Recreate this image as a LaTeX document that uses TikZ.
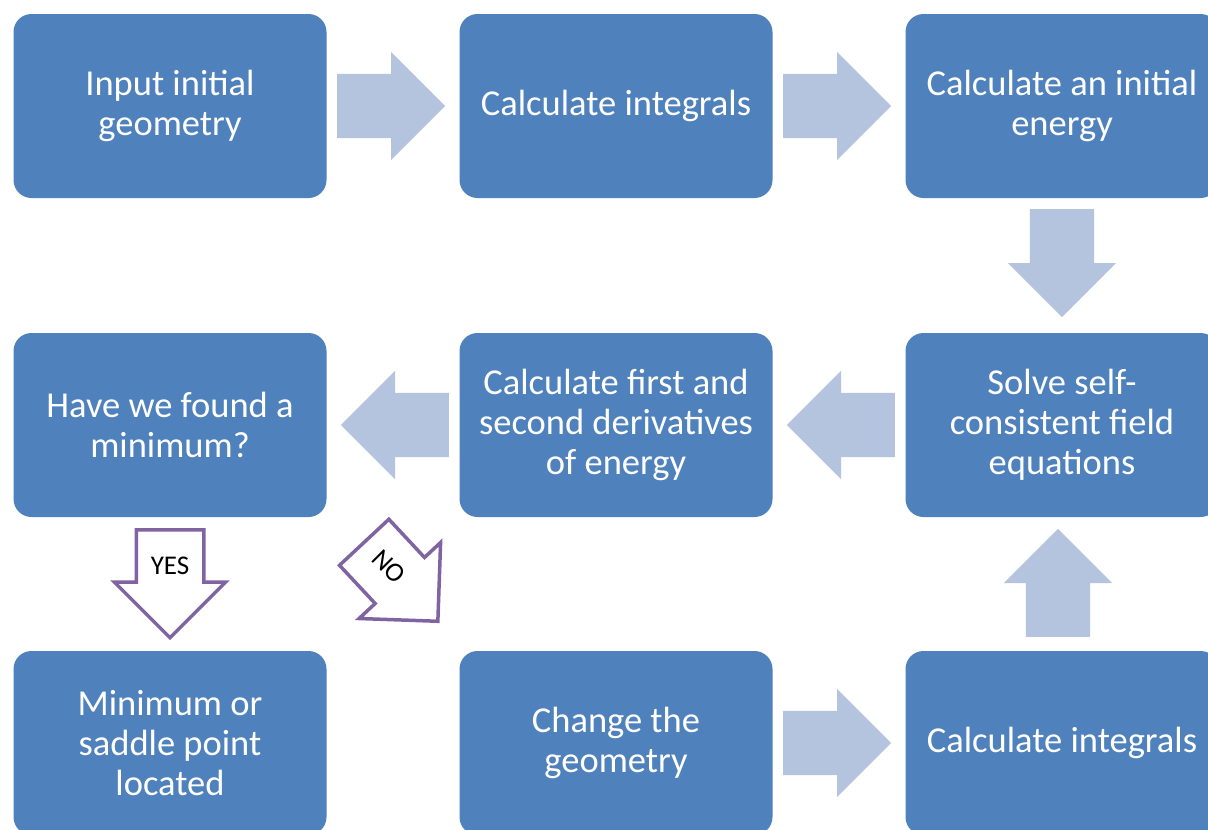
\documentclass[tikz,border=0pt]{standalone}
\usepackage{fontspec}
\setmainfont{Carlito}
\usetikzlibrary{shapes.arrows}
\definecolor{boxblue}{RGB}{79,129,189}
\definecolor{arrowblue}{RGB}{180,195,222}
\definecolor{answerpurple}{RGB}{128,100,162}
\begin{document}
\begin{tikzpicture}[x=1pt, y=-1pt]
        \tikzset{%
         every stage/.style={
            rectangle,
            rounded corners=18pt,
            fill=boxblue,
            text=white,
            align=center,
            inner sep=0pt,
            minimum width=313pt,
            minimum height=184pt,
            font=\fontsize{36.5}{40}\selectfont},
         every flow arrow/.style={
            single arrow,
            fill=arrowblue,
            inner xsep=0pt,
            inner ysep=32pt,
            single arrow head extend=22pt,
            minimum height=108pt,
            anchor=tail},
         answer arrow/.style={
            every flow arrow,
            fill=white,
            draw=answerpurple,
            line width=3.5pt},
         answer label/.style={
            font=\fontsize{27}{30}\selectfont},
        }
        \useasboundingbox (0,0) rectangle (1208,830);

        \foreach \n/\x/\y/\t in {input/170/106/{Input initial\\geometry},
                                 integrals/616/106/{Calculate integrals},
                                 energy/1062/106/{Calculate an initial\\energy},
                                 scf/1062/425/{Solve self-\\consistent field\\equations},
                                 derivatives/616/425/{Calculate first and\\second derivatives\\of energy},
                                 minimum/170/425/{Have we found a\\minimum?},
                                 located/170/743/{Minimum or\\saddle point\\located},
                                 change/616/743/{Change the\\geometry},
                                 integrals-2/1062/743/{Calculate integrals}}
        {
            \node [every stage] (stage-\n) at (\x,\y) {\t};
        }

        \foreach \n/\x/\y/\r in {1/337/106/0, 2/783/106/0, 3/1062/209/-90,
                                 4/895/425/180, 5/449/425/180,
                                 6/783/743/0, 7/1058/637/90}
            \node [every flow arrow, rotate=\r] (arrow-\n) at (\x,\y) {};

        \node [answer arrow, rotate=-90] (answer-yes) at (170,528) {};
        \node [answer arrow, rotate=-47] (answer-no) at (363,541) {};
        \node [answer label] (label-yes) at (170,566) {YES};
        \node [answer label, rotate=-45] (label-no) at (389,567) {NO};
\end{tikzpicture}
\end{document}
